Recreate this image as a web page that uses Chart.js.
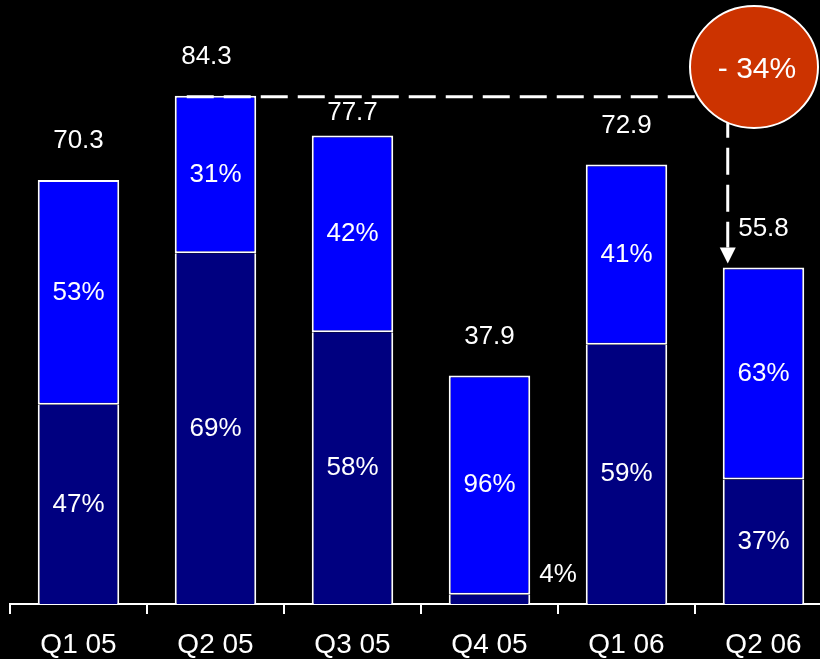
<!DOCTYPE html>
<html>
<head>
<meta charset="utf-8">
<title>Quarterly volume</title>
<script src="https://cdn.jsdelivr.net/npm/chart.js@4/dist/chart.umd.min.js"></script>
<style>
    html, body {
        margin: 0;
        padding: 0;
        background: #000;
        overflow: hidden;
    }
    #wrap {
        width: 840px;
        height: 659px;
    }
</style>
</head>
<body>
<div id="wrap">
    <canvas id="chart" width="840" height="659"></canvas>
</div>
<script>
var quarters = ['Q1 05', 'Q2 05', 'Q3 05', 'Q4 05', 'Q1 06', 'Q2 06'];
var totals = [70.3, 84.3, 77.7, 37.9, 72.9, 55.8];
var lowerShare = [47, 69, 58, 4, 59, 37];
var upperShare = [53, 31, 42, 96, 41, 63];
var changeLabel = '- 34%';

// segment heights come from the total and its share
var lowerValues = totals.map((t, i) => t * lowerShare[i] / 100);
var upperValues = totals.map((t, i) => t - lowerValues[i]);

Chart.defaults.font.family = '"Liberation Sans", Arial, sans-serif';
Chart.defaults.color = '#fff';

function drawText(ctx, text, x, y, size, align) {
    ctx.save();
    ctx.font = size + 'px "Liberation Sans", Arial, sans-serif';
    ctx.fillStyle = '#fff';
    ctx.textAlign = align || 'center';
    ctx.textBaseline = 'middle';
    ctx.fillText(text, x, y);
    ctx.restore();
}

// totals above bars, shares inside segments
var labelsPlugin = {
    id: 'barLabels',
    afterDatasetsDraw(chart) {
        var ctx = chart.ctx;
        var lower = chart.getDatasetMeta(0).data;
        var upper = chart.getDatasetMeta(1).data;
        totals.forEach((t, i) => {
            var top = upper[i];
            var lift = i === 2 ? 23 : 39;
            var shift = i === 1 ? -9 : 0;
            drawText(ctx, t.toFixed(1), top.x + shift, top.y - lift, 26);

            var midUpper = (top.y + top.base) / 2;
            drawText(ctx, upperShare[i] + '%', top.x, midUpper, 26);

            var bot = lower[i];
            var midLower = (bot.y + bot.base) / 2;
            if (bot.base - bot.y < 30) {
                // too thin to hold its label
                drawText(ctx, lowerShare[i] + '%', bot.x + bot.width / 2 + 9, bot.y - 20, 26, 'left');
            } else {
                drawText(ctx, lowerShare[i] + '%', bot.x, midLower, 26);
            }
        });
    }
};

// dashed arrow from the Q2 05 peak down to Q2 06, plus the change bubble
var changePlugin = {
    id: 'changeArrow',
    afterDraw(chart) {
        var ctx = chart.ctx;
        var yScale = chart.scales.y;
        var upper = chart.getDatasetMeta(1).data;
        var from = upper[1];
        var to = upper[5];
        var y0 = yScale.getPixelForValue(totals[1]) + 1;
        var xStart = from.x - from.width / 2 + 12;
        var xEnd = to.x - to.width / 2 + 5;
        var yEnd = yScale.getPixelForValue(totals[5]);

        ctx.save();
        ctx.strokeStyle = '#fff';
        ctx.lineWidth = 3;
        ctx.setLineDash([27, 10]);
        ctx.beginPath();
        ctx.moveTo(xStart, y0);
        ctx.lineTo(xEnd, y0);
        ctx.lineTo(xEnd, yEnd - 20);
        ctx.stroke();
        ctx.setLineDash([]);

        ctx.fillStyle = '#fff';
        ctx.beginPath();
        ctx.moveTo(xEnd - 8, yEnd - 20);
        ctx.lineTo(xEnd + 8, yEnd - 20);
        ctx.lineTo(xEnd, yEnd - 4);
        ctx.closePath();
        ctx.fill();

        // bubble
        ctx.beginPath();
        ctx.ellipse(754, 67, 64, 61, 0, 0, Math.PI * 2);
        ctx.fillStyle = '#cc3300';
        ctx.fill();
        ctx.lineWidth = 2;
        ctx.strokeStyle = '#fff';
        ctx.stroke();
        ctx.restore();

        drawText(ctx, changeLabel, 757, 70, 30);
    }
};

var ctx = document.getElementById('chart').getContext('2d');
var chart = new Chart(ctx, {
    type: 'bar',
    data: {
        labels: quarters,
        datasets: [
            {
                label: 'lower',
                data: lowerValues,
                backgroundColor: '#000080',
                borderColor: '#fff',
                borderWidth: {top: 0, left: 2, right: 2, bottom: 0},
                borderSkipped: false
            },
            {
                label: 'upper',
                data: upperValues,
                backgroundColor: '#0000ff',
                borderColor: '#fff',
                borderWidth: {top: 2, left: 2, right: 2, bottom: 2},
                borderSkipped: false
            }
        ]
    },
    options: {
        responsive: false,
        animation: false,
        categoryPercentage: 1,
        barPercentage: 0.595,
        layout: {
            padding: {top: 1, left: 10, right: 8, bottom: 0}
        },
        scales: {
            x: {
                stacked: true,
                grid: {
                    display: true,
                    drawOnChartArea: false,
                    drawTicks: true,
                    tickLength: 10,
                    color: '#fff',
                    lineWidth: 2
                },
                border: {
                    display: true,
                    color: '#fff',
                    width: 2
                },
                ticks: {
                    color: '#fff',
                    padding: 14,
                    font: {size: 28}
                },
                afterFit(scale) {
                    scale.height = 55;
                }
            },
            y: {
                stacked: true,
                display: false,
                min: 0,
                max: 100
            }
        },
        plugins: {
            legend: {display: false},
            tooltip: {enabled: false}
        }
    },
    plugins: [labelsPlugin, changePlugin]
});
</script>
</body>
</html>
